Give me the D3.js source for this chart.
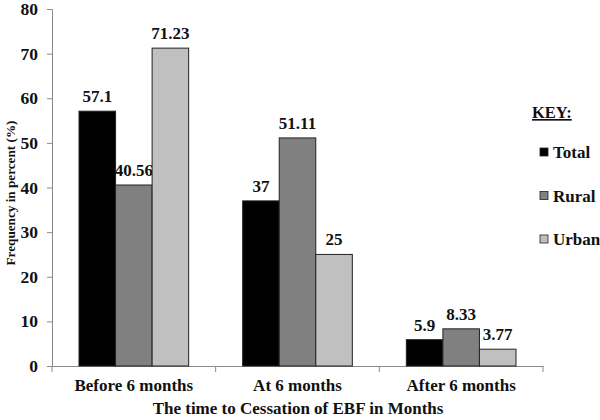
<!DOCTYPE html>
<html><head><meta charset="utf-8">
<script src="https://cdn.jsdelivr.net/npm/d3@7"></script>
<style>body{margin:0;background:#fff}svg{display:block}text{font-family:"Liberation Serif","Times New Roman",serif;font-weight:bold;fill:#111}</style>
</head><body><svg width="600" height="420"></svg>
<script>
const categories = ["Before 6 months", "At 6 months", "After 6 months"];
const seriesNames = ["Total", "Rural", "Urban"];
const total = [57.1, 37, 5.9];
const rural = [40.56, 51.11, 8.33];
const urban = [71.23, 25, 3.77];
const valueLabels = [["57.1","37","5.9"],["40.56","51.11","8.33"],["71.23","25","3.77"]];
const yTicks = [0,10,20,30,40,50,60,70,80];
const colors = ["#000000", "#808080", "#c0c0c0"];

const series = [total, rural, urban];
const svg = d3.select("svg");
const m = {l:52, r:57, t:9, b:54};
const W = 600, H = 420;
const x = d3.scaleBand().domain(categories).range([m.l, W - m.r]).paddingInner(0).paddingOuter(0);
const y = d3.scaleLinear().domain([0,80]).range([H - m.b, m.t]);
const groupW = x.bandwidth() * 0.67;
const x1 = d3.scaleBand().domain(seriesNames).range([0, groupW]).padding(0);

// axes
const yAx = svg.append("g").attr("transform", `translate(${m.l},0)`)
  .call(d3.axisLeft(y).tickValues(yTicks).tickSize(5).tickFormat(d3.format("d")));
yAx.selectAll("line,path").attr("stroke", "#8a8a8a");
yAx.selectAll("text").attr("font-size", 17.5).attr("dx", -6);

const xAx = svg.append("g").attr("transform", `translate(0,${y(0)})`)
  .call(d3.axisBottom(x).tickSize(0).tickSizeOuter(0));
xAx.select("path").attr("stroke", "#8a8a8a");
xAx.selectAll("text").attr("font-size", 17).attr("dy", null).attr("y", 25);
// boundary ticks
const bounds = [m.l].concat(categories.map(c => x(c) + x.bandwidth()));
svg.append("g").selectAll("line").data(bounds).join("line")
  .attr("x1", d => d).attr("x2", d => d).attr("y1", y(0)).attr("y2", y(0) + 6)
  .attr("stroke", "#8a8a8a");

// bars
series.forEach((vals, si) => {
  const g = svg.append("g");
  g.selectAll("rect").data(vals).join("rect")
    .attr("x", (d,i) => x(categories[i]) + (x.bandwidth() - groupW)/2 + x1(seriesNames[si]))
    .attr("y", d => y(d))
    .attr("width", x1.bandwidth())
    .attr("height", d => y(0) - y(d))
    .attr("fill", colors[si]).attr("stroke", "#222").attr("stroke-width", 1);
  g.selectAll("text").data(vals).join("text")
    .attr("x", (d,i) => x(categories[i]) + (x.bandwidth() - groupW)/2 + x1(seriesNames[si]) + x1.bandwidth()/2)
    .attr("y", d => y(d) - 9)
    .attr("text-anchor", "middle").attr("font-size", 17)
    .text((d,i) => valueLabels[si][i]);
});

// axis titles
svg.append("text").attr("x", 298).attr("y", 414).attr("text-anchor", "middle")
  .attr("font-size", 17).text("The time to Cessation of EBF in Months");
svg.append("text").attr("transform", `translate(15,193) rotate(-90)`)
  .attr("text-anchor", "middle").attr("font-size", 13.2).text("Frequency in percent (%)");

// legend
svg.append("text").attr("x", 532).attr("y", 118).attr("font-size", 16.5)
  .attr("text-decoration", "underline").text("KEY:");
const lg = svg.append("g").selectAll("g").data(seriesNames).join("g")
  .attr("transform", (d,i) => `translate(540,${152 + i*43.5})`);
lg.append("rect").attr("x", 0).attr("y", -4).attr("width", 8).attr("height", 8)
  .attr("fill", (d,i) => colors[i]).attr("stroke", "#222").attr("stroke-width", 0.8);
lg.append("text").attr("x", 13).attr("y", 6).attr("font-size", 17).text(d => d);
</script></body></html>
